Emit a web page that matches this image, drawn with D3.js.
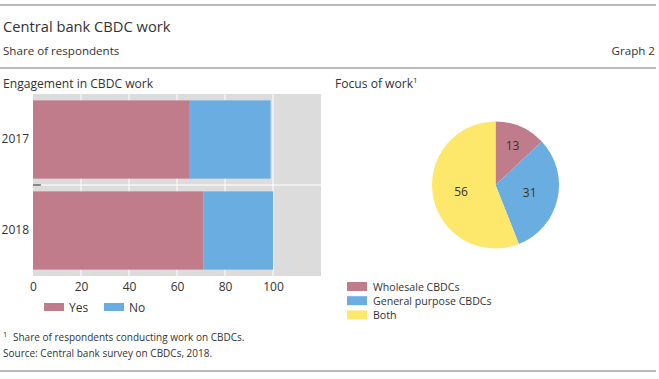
<!DOCTYPE html>
<html>
<head>
<meta charset="utf-8">
<script src="https://cdn.jsdelivr.net/npm/d3@7/dist/d3.min.js"></script>
<style>
body{margin:0;background:#fff;}
text{font-family:"Open Sans",sans-serif;fill:#333;}
</style>
</head>
<body>
<svg id="c" width="659" height="379"></svg>
<script>
// Data
const years = ["2017","2018"];
const yesValues = [65, 71];
const noValues = [34, 29];
const barSeries = ["Yes","No"];
const xTicks = [0,20,40,60,80,100];
const pieCategories = ["Wholesale CBDCs","General purpose CBDCs","Both"];
const pieValues = [13, 31, 56];

const colors = {Yes:"#c07c8b", No:"#6aade0"};
const pieColors = ["#c07c8b","#6aade0","#fde86c"];

const svg = d3.select("#c");

// Frame lines
svg.append("line").attr("x1",0).attr("x2",656).attr("y1",5).attr("y2",5).attr("stroke","#777").attr("stroke-width",1.2);
svg.append("line").attr("x1",0).attr("x2",656).attr("y1",68).attr("y2",68).attr("stroke","#777").attr("stroke-width",1.2);
svg.append("line").attr("x1",0).attr("x2",656).attr("y1",371).attr("y2",371).attr("stroke","#777").attr("stroke-width",1.2);

// Titles
svg.append("text").attr("x",3).attr("y",32).attr("font-size",14.7).text("Central bank CBDC work");
svg.append("text").attr("x",3).attr("y",55).attr("font-size",11.6).text("Share of respondents");
svg.append("text").attr("x",655).attr("y",55).attr("font-size",11.6).attr("text-anchor","end").text("Graph 2");
svg.append("text").attr("x",3).attr("y",88).attr("font-size",12.1).text("Engagement in CBDC work");
const fw = svg.append("text").attr("x",335).attr("y",88).attr("font-size",12.1).text("Focus of work");
fw.append("tspan").attr("font-size",8).attr("dy",-5).text("1");

// Bar chart
const x = d3.scaleLinear().domain([0,120]).range([33,321]);
const y = d3.scaleBand().domain(years).range([94,276]).paddingInner(0.14).paddingOuter(0.07);

svg.append("rect").attr("x",x(0)).attr("y",94).attr("width",x(120)-x(0)).attr("height",182).attr("fill","#dcdcdc");

// grid
svg.append("g").selectAll("line").data(xTicks.slice(1)).join("line")
  .attr("x1",d=>x(d)).attr("x2",d=>x(d)).attr("y1",94).attr("y2",276)
  .attr("stroke","#fff").attr("stroke-width",1);
const sepY = y("2017") + y.bandwidth() + y.step()*y.paddingInner()/2;
svg.append("line").attr("x1",x(0)).attr("x2",x(120)).attr("y1",sepY).attr("y2",sepY).attr("stroke","#fff").attr("stroke-width",1.2);
svg.append("line").attr("x1",x(0)).attr("x2",x(3.3)).attr("y1",sepY).attr("y2",sepY).attr("stroke","#222").attr("stroke-width",1);

const stackData = years.map((yr,i)=>({year:yr, Yes:yesValues[i], No:noValues[i]}));
const stack = d3.stack().keys(barSeries)(stackData);
svg.append("g").selectAll("g").data(stack).join("g")
  .attr("fill",d=>colors[d.key])
  .selectAll("rect").data(d=>d).join("rect")
  .attr("x",d=>x(d[0])).attr("width",d=>x(d[1])-x(d[0]))
  .attr("y",d=>y(d.data.year)).attr("height",y.bandwidth());

// axis labels
const xAxis = d3.axisBottom(x).tickValues(xTicks).tickSize(0).tickPadding(0);
const gx = svg.append("g").attr("transform","translate(0,280)").call(xAxis);
gx.select(".domain").remove();
gx.selectAll("text").attr("font-size",12).attr("font-family","'Open Sans',sans-serif").attr("fill","#333").attr("dy","0.95em");

const yAxis = d3.axisLeft(y).tickSize(0).tickPadding(4);
const gy = svg.append("g").attr("transform",`translate(${x(0)},0)`).call(yAxis);
gy.select(".domain").remove();
gy.selectAll("text").attr("font-size",12).attr("font-family","'Open Sans',sans-serif").attr("fill","#333");

// bar legend
const legX = [44, 104];
const lg = svg.append("g").selectAll("g").data(barSeries).join("g")
  .attr("transform",(d,i)=>`translate(${legX[i]},303)`);
lg.append("rect").attr("width",20).attr("height",8).attr("fill",d=>colors[d]);
lg.append("text").attr("x",25).attr("y",8.5).attr("font-size",12).text(d=>d);

// Pie
const cx = 495.5, cy = 185, R = 63.5;
const pie = d3.pie().sort(null).value(d=>d)(pieValues);
const arc = d3.arc().innerRadius(0).outerRadius(R);
const pg = svg.append("g").attr("transform",`translate(${cx},${cy})`);
pg.selectAll("path").data(pie).join("path").attr("d",arc).attr("fill",(d,i)=>pieColors[i]);
pg.selectAll("text").data(pie).join("text")
  .attr("transform",d=>{
    const lr = d.data < 20 ? 86 : 70;
    const c = d3.arc().innerRadius(0).outerRadius(lr).centroid(d);
    return `translate(${c[0]},${c[1]})`;
  })
  .attr("text-anchor","middle").attr("dy","0.35em").attr("font-size",12).attr("fill","#222")
  .text(d=>d.data);

// pie legend
const pl = svg.append("g").selectAll("g").data(pieCategories).join("g")
  .attr("transform",(d,i)=>`translate(347,${282+i*14.2})`);
pl.append("rect").attr("width",20).attr("height",9).attr("fill",(d,i)=>pieColors[i]);
pl.append("text").attr("x",26).attr("y",8.5).attr("font-size",10.6).text(d=>d);

// Footnotes
const fn = svg.append("text").attr("x",3).attr("y",341).attr("font-size",10);
fn.append("tspan").attr("font-size",7.5).attr("dy",-4).text("1");
fn.append("tspan").attr("x",13).attr("dy",4).text("Share of respondents conducting work on CBDCs.");
svg.append("text").attr("x",3).attr("y",357).attr("font-size",10).text("Source: Central bank survey on CBDCs, 2018.");
</script>
</body>
</html>
